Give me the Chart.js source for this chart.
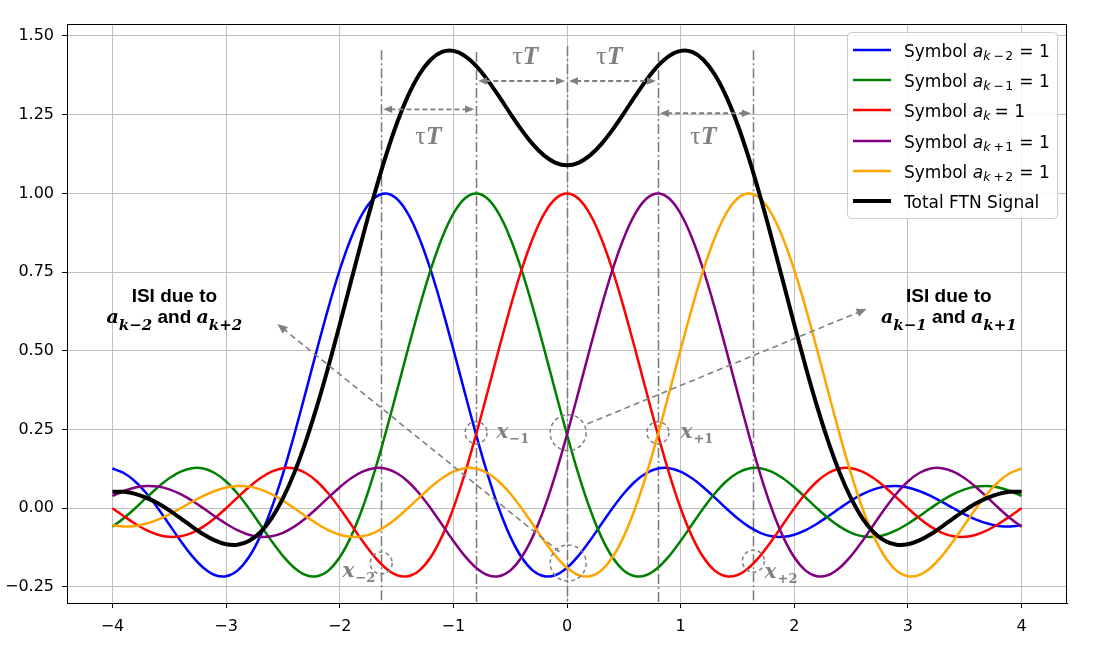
<!DOCTYPE html>
<html lang="en">
<head>
<meta charset="UTF-8">
<title>FTN signal and ISI</title>
<script src="https://cdn.jsdelivr.net/npm/chart.js"></script>
<style>
    body { margin: 0; background: #fff; }
    #wrap { width: 1094px; height: 645px; }
</style>
</head>
<body>
<div id="wrap"><canvas id="ftnChart" width="1094" height="645"></canvas></div>
<script>
// sample positions (t / T)
const xs = [-4, -3.9, -3.8, -3.7, -3.6, -3.5, -3.4, -3.3, -3.2, -3.1, -3, -2.9, -2.8, -2.7, -2.6, -2.5, -2.4, -2.3, -2.2, -2.1,
    -2, -1.9, -1.8, -1.7, -1.6, -1.5, -1.4, -1.3, -1.2, -1.1, -1, -0.9, -0.8, -0.7, -0.6, -0.5, -0.4, -0.3, -0.2, -0.1,
    0, 0.1, 0.2, 0.3, 0.4, 0.5, 0.6, 0.7, 0.8, 0.9, 1, 1.1, 1.2, 1.3, 1.4, 1.5, 1.6, 1.7, 1.8, 1.9,
    2, 2.1, 2.2, 2.3, 2.4, 2.5, 2.6, 2.7, 2.8, 2.9, 3, 3.1, 3.2, 3.3, 3.4, 3.5, 3.6, 3.7, 3.8, 3.9, 4];

// pulses
const symKm2 = [0.1261, 0.1120, 0.0850, 0.0468, 0, -0.0518, -0.1039, -0.1515, -0.1892, -0.2122, -0.2162, -0.1981, -0.1559, -0.0894, 0, 0.1093, 0.2339, 0.3679, 0.5046, 0.6366,
    0.7568, 0.8584, 0.9355, 0.9836, 1, 0.9836, 0.9355, 0.8584, 0.7568, 0.6366, 0.5046, 0.3679, 0.2339, 0.1093, 0, -0.0894, -0.1559, -0.1981, -0.2162, -0.2122,
    -0.1892, -0.1515, -0.1039, -0.0518, 0, 0.0468, 0.0850, 0.1120, 0.1261, 0.1273, 0.1164, 0.0954, 0.0668, 0.0339, 0, -0.0317, -0.0585, -0.0780, -0.0890, -0.0909,
    -0.0841, -0.0696, -0.0492, -0.0252, 0, 0.0240, 0.0445, 0.0599, 0.0688, 0.0707, 0.0658, 0.0548, 0.0390, 0.0201, 0, -0.0193, -0.0360, -0.0486, -0.0561, -0.0579, -0.0541];
const symKm1 = [-0.0585, -0.0317, 0, 0.0339, 0.0668, 0.0954, 0.1164, 0.1273, 0.1261, 0.1120, 0.0850, 0.0468, 0, -0.0518, -0.1039, -0.1515, -0.1892, -0.2122, -0.2162, -0.1981,
    -0.1559, -0.0894, 0, 0.1093, 0.2339, 0.3679, 0.5046, 0.6366, 0.7568, 0.8584, 0.9355, 0.9836, 1, 0.9836, 0.9355, 0.8584, 0.7568, 0.6366, 0.5046, 0.3679,
    0.2339, 0.1093, 0, -0.0894, -0.1559, -0.1981, -0.2162, -0.2122, -0.1892, -0.1515, -0.1039, -0.0518, 0, 0.0468, 0.0850, 0.1120, 0.1261, 0.1273, 0.1164, 0.0954,
    0.0668, 0.0339, 0, -0.0317, -0.0585, -0.0780, -0.0890, -0.0909, -0.0841, -0.0696, -0.0492, -0.0252, 0, 0.0240, 0.0445, 0.0599, 0.0688, 0.0707, 0.0658, 0.0548, 0.0390];
const symK = [0, -0.0252, -0.0492, -0.0696, -0.0841, -0.0909, -0.0890, -0.0780, -0.0585, -0.0317, 0, 0.0339, 0.0668, 0.0954, 0.1164, 0.1273, 0.1261, 0.1120, 0.0850, 0.0468,
    0, -0.0518, -0.1039, -0.1515, -0.1892, -0.2122, -0.2162, -0.1981, -0.1559, -0.0894, 0, 0.1093, 0.2339, 0.3679, 0.5046, 0.6366, 0.7568, 0.8584, 0.9355, 0.9836,
    1, 0.9836, 0.9355, 0.8584, 0.7568, 0.6366, 0.5046, 0.3679, 0.2339, 0.1093, 0, -0.0894, -0.1559, -0.1981, -0.2162, -0.2122, -0.1892, -0.1515, -0.1039, -0.0518,
    0, 0.0468, 0.0850, 0.1120, 0.1261, 0.1273, 0.1164, 0.0954, 0.0668, 0.0339, 0, -0.0317, -0.0585, -0.0780, -0.0890, -0.0909, -0.0841, -0.0696, -0.0492, -0.0252, 0];
const symKp1 = [0.0390, 0.0548, 0.0658, 0.0707, 0.0688, 0.0599, 0.0445, 0.0240, 0, -0.0252, -0.0492, -0.0696, -0.0841, -0.0909, -0.0890, -0.0780, -0.0585, -0.0317, 0, 0.0339,
    0.0668, 0.0954, 0.1164, 0.1273, 0.1261, 0.1120, 0.0850, 0.0468, 0, -0.0518, -0.1039, -0.1515, -0.1892, -0.2122, -0.2162, -0.1981, -0.1559, -0.0894, 0, 0.1093,
    0.2339, 0.3679, 0.5046, 0.6366, 0.7568, 0.8584, 0.9355, 0.9836, 1, 0.9836, 0.9355, 0.8584, 0.7568, 0.6366, 0.5046, 0.3679, 0.2339, 0.1093, 0, -0.0894,
    -0.1559, -0.1981, -0.2162, -0.2122, -0.1892, -0.1515, -0.1039, -0.0518, 0, 0.0468, 0.0850, 0.1120, 0.1261, 0.1273, 0.1164, 0.0954, 0.0668, 0.0339, 0, -0.0317, -0.0585];
const symKp2 = [-0.0541, -0.0579, -0.0561, -0.0486, -0.0360, -0.0193, 0, 0.0201, 0.0390, 0.0548, 0.0658, 0.0707, 0.0688, 0.0599, 0.0445, 0.0240, 0, -0.0252, -0.0492, -0.0696,
    -0.0841, -0.0909, -0.0890, -0.0780, -0.0585, -0.0317, 0, 0.0339, 0.0668, 0.0954, 0.1164, 0.1273, 0.1261, 0.1120, 0.0850, 0.0468, 0, -0.0518, -0.1039, -0.1515,
    -0.1892, -0.2122, -0.2162, -0.1981, -0.1559, -0.0894, 0, 0.1093, 0.2339, 0.3679, 0.5046, 0.6366, 0.7568, 0.8584, 0.9355, 0.9836, 1, 0.9836, 0.9355, 0.8584,
    0.7568, 0.6366, 0.5046, 0.3679, 0.2339, 0.1093, 0, -0.0894, -0.1559, -0.1981, -0.2162, -0.2122, -0.1892, -0.1515, -0.1039, -0.0518, 0, 0.0468, 0.0850, 0.1120, 0.1261];
const totalFtn = [0.0525, 0.0520, 0.0455, 0.0332, 0.0155, -0.0067, -0.0320, -0.0581, -0.0826, -0.1023, -0.1146, -0.1163, -0.1044, -0.0768, -0.0320, 0.0311, 0.1123, 0.2108, 0.3242, 0.4496,
    0.5836, 0.7217, 0.8590, 0.9907, 1.1123, 1.2196, 1.3089, 1.3776, 1.4245, 1.4492, 1.4526, 1.4366, 1.4047, 1.3606, 1.3089, 1.2543, 1.2018, 1.1557, 1.1200, 1.0971,
    1.0894, 1.0971, 1.1200, 1.1557, 1.2018, 1.2543, 1.3089, 1.3606, 1.4047, 1.4366, 1.4526, 1.4492, 1.4245, 1.3776, 1.3089, 1.2196, 1.1123, 0.9907, 0.8590, 0.7217,
    0.5836, 0.4496, 0.3242, 0.2108, 0.1123, 0.0311, -0.0320, -0.0768, -0.1044, -0.1163, -0.1146, -0.1023, -0.0826, -0.0581, -0.0320, -0.0067, 0.0155, 0.0332, 0.0455, 0.0520, 0.0525];

const seriesSubs = ['k − 2', 'k − 1', 'k', 'k + 1', 'k + 2'];
const seriesColors = ['#0000ff', '#008000', '#ff0000', '#800080', '#ffa500'];
const xTickValues = [-4, -3, -2, -1, 0, 1, 2, 3, 4];
const xTickLabels = ['−4', '−3', '−2', '−1', '0', '1', '2', '3', '4'];
const yTickValues = [-0.25, 0, 0.25, 0.5, 0.75, 1, 1.25, 1.5];
const yTickLabels = ['−0.25', '0.00', '0.25', '0.50', '0.75', '1.00', '1.25', '1.50'];

const GRAY = '#808080';

function pts(ys) { return xs.map((x, i) => ({ x: x, y: ys[i] })); }

// draw a row of text pieces (fonts, subscripts) one after the other
function drawRuns(ctx, runs, x, y, align) {
    let w = 0;
    runs.forEach(r => { ctx.font = r.f; w += ctx.measureText(r.t).width + (r.gap || 0); });
    let cx = align === 'center' ? x - w / 2 : x;
    ctx.textAlign = 'left';
    ctx.textBaseline = 'alphabetic';
    runs.forEach(r => {
        cx += r.gap || 0;
        ctx.font = r.f;
        ctx.fillText(r.t, cx, y + (r.dy || 0));
        cx += ctx.measureText(r.t).width;
    });
}

function head(ctx, x1, y1, x2, y2, len, half) {
    const a = Math.atan2(y2 - y1, x2 - x1);
    ctx.save();
    ctx.setLineDash([]);
    ctx.beginPath();
    ctx.moveTo(x2, y2);
    ctx.lineTo(x2 - len * Math.cos(a) + half * Math.sin(a), y2 - len * Math.sin(a) - half * Math.cos(a));
    ctx.lineTo(x2 - len * Math.cos(a) - half * Math.sin(a), y2 - len * Math.sin(a) + half * Math.cos(a));
    ctx.closePath();
    ctx.fill();
    ctx.restore();
}

function arrow(ctx, x1, y1, x2, y2, both, dash, len) {
    const a = Math.atan2(y2 - y1, x2 - x1);
    const sx = both ? x1 + len * Math.cos(a) * 0.8 : x1, sy = both ? y1 + len * Math.sin(a) * 0.8 : y1;
    ctx.setLineDash(dash);
    ctx.beginPath();
    ctx.moveTo(sx, sy);
    ctx.lineTo(x2 - len * Math.cos(a) * 0.8, y2 - len * Math.sin(a) * 0.8);
    ctx.stroke();
    head(ctx, x1, y1, x2, y2, len, len * 0.42);
    if (both) head(ctx, x2, y2, x1, y1, len, len * 0.42);
}

const annotations = {
    id: 'annotations',
    beforeDatasetsDraw(chart) {
        const { ctx, chartArea, scales: { x, y } } = chart;
        ctx.save();
        ctx.strokeStyle = '#7a7a7a';
        ctx.lineWidth = 1.5;
        ctx.setLineDash([10, 3, 2, 3]);
        [[-1.635, 1.455], [-0.8, 1.449], [0, 1.468], [0.8, 1.449], [1.635, 1.455]].forEach(([vx, top]) => {
            const px = Math.round(x.getPixelForValue(vx)) + 0.5;
            ctx.beginPath();
            ctx.moveTo(px, y.getPixelForValue(top));
            ctx.lineTo(px, chartArea.bottom);
            ctx.stroke();
        });
        ctx.restore();
    },
    afterDatasetsDraw(chart) {
        const { ctx, chartArea, scales: { x, y } } = chart;
        const X = v => x.getPixelForValue(v), Y = v => y.getPixelForValue(v);
        ctx.save();
        ctx.strokeStyle = GRAY;
        ctx.fillStyle = GRAY;

        // tau T spacing arrows
        ctx.lineWidth = 1.8;
        [[-1.635, -0.8, 1.267], [-0.8, 0, 1.357], [0, 0.8, 1.357], [0.8, 1.635, 1.2545]].forEach(([a, b, h]) => {
            arrow(ctx, X(a) + 2, Y(h), X(b) - 2, Y(h), true, [5, 3], 9);
        });
        [[-0.367, 1.41], [0.374, 1.41], [-1.219, 1.157], [1.2, 1.157]].forEach(([cx, by]) => {
            drawRuns(ctx, [{ t: 'τ', f: '26px "Liberation Serif"' }, { t: 'T', f: 'bold italic 26px "Liberation Serif"' }], X(cx), Y(by), 'center');
        });

        // ISI pointers
        ctx.lineWidth = 1.6;
        arrow(ctx, X(-0.066), Y(-0.139), X(-2.548), Y(0.585), false, [6, 4], 10);
        arrow(ctx, X(0.18), Y(0.268), X(2.636), Y(0.633), false, [6, 4], 10);

        // sample circles
        ctx.lineWidth = 1.5;
        ctx.setLineDash([4, 3]);
        [[-0.8, 0.24, 11], [0.01, 0.24, 18], [0.8, 0.24, 11], [-1.635, -0.174, 11], [0.01, -0.174, 18], [1.64, -0.168, 11]].forEach(([cx, cy, r]) => {
            ctx.beginPath();
            ctx.arc(X(cx), Y(cy), r, 0, Math.PI * 2);
            ctx.stroke();
        });
        ctx.setLineDash([]);

        // sample labels
        const xf = 'bold italic 20px "DejaVu Serif"', sf = 'bold 13px "DejaVu Serif"';
        [[-0.621, 0.2233, '−1'], [0.999, 0.2233, '+1'], [-1.976, -0.218, '−2'], [1.739, -0.2214, '+2']].forEach(([lx, ly, s]) => {
            drawRuns(ctx, [{ t: 'x', f: xf }, { t: s, f: sf, dy: 5, gap: 1 }], X(lx), Y(ly), 'left');
        });

        // ISI captions
        ctx.fillStyle = '#000';
        const capF = 'bold 19px "Liberation Sans"';
        const mF = 'bold italic 19px "DejaVu Serif"', mS = 'bold italic 15px "DejaVu Serif"';
        [[-3.455, 'k−2', 'k+2'], [3.36, 'k−1', 'k+1']].forEach(([cx, s1, s2]) => {
            drawRuns(ctx, [{ t: 'ISI due to', f: capF }], X(cx), Y(0.656), 'center');
            drawRuns(ctx, [
                { t: 'a', f: mF }, { t: s1, f: mS, dy: 7 },
                { t: ' and ', f: capF },
                { t: 'a', f: mF }, { t: s2, f: mS, dy: 7 }
            ], X(cx), Y(0.5875), 'center');
        });

        // legend
        const lx = chartArea.right - 220, ly = chartArea.top + 8, lw = 210, lh = 186;
        ctx.fillStyle = 'rgba(255,255,255,0.85)';
        ctx.strokeStyle = '#cccccc';
        ctx.lineWidth = 1;
        ctx.beginPath();
        ctx.roundRect(lx + 0.5, ly + 0.5, lw, lh, 4);
        ctx.fill();
        ctx.stroke();
        const rows = seriesSubs.map((s, i) => ({ color: seriesColors[i], w: 2.5, sub: s }));
        rows.push({ color: '#000', w: 4, sub: null });
        const tf = '17px "DejaVu Sans"';
        rows.forEach((r, i) => {
            const cy = Math.round(ly + 18 + i * 30.2);
            ctx.strokeStyle = r.color;
            ctx.lineWidth = r.w;
            ctx.beginPath();
            ctx.moveTo(lx + 6, cy);
            ctx.lineTo(lx + 44, cy);
            ctx.stroke();
            ctx.fillStyle = '#000';
            if (r.sub === null) {
                drawRuns(ctx, [{ t: 'Total FTN Signal', f: tf }], lx + 57, cy + 6.5, 'left');
            } else {
                const parts = r.sub.split(' ');
                const runs = [{ t: 'Symbol ', f: tf }, { t: 'a', f: 'italic 17px "DejaVu Sans"' },
                    { t: parts[0], f: 'italic 12.5px "DejaVu Sans"', dy: 3 }];
                if (parts.length > 1) {
                    runs.push({ t: parts[1], f: '12.5px "DejaVu Sans"', dy: 3, gap: 3 });
                    runs.push({ t: parts[2], f: '12.5px "DejaVu Sans"', dy: 3, gap: 1.5 });
                }
                runs.push({ t: '=', f: tf, gap: parts.length > 1 ? 6 : 4 });
                runs.push({ t: '1', f: tf, gap: 5.5 });
                drawRuns(ctx, runs, lx + 57, cy + 6.5, 'left');
            }
        });

        // axes frame
        ctx.strokeStyle = '#000';
        ctx.lineWidth = 1;
        ctx.strokeRect(chartArea.left + 0.5, chartArea.top + 0.5, chartArea.right - chartArea.left - 1, chartArea.bottom - chartArea.top);
        ctx.restore();
    }
};

function ds(label, ys, color, width, order) {
    return { label: label, data: pts(ys), borderColor: color, backgroundColor: color, borderWidth: width,
        pointRadius: 0, tension: 0.3, fill: false, order: order };
}

new Chart(document.getElementById('ftnChart'), {
    type: 'line',
    data: {
        datasets: [
            ds('Symbol a_{k-2} = 1', symKm2, seriesColors[0], 2.5, 6),
            ds('Symbol a_{k-1} = 1', symKm1, seriesColors[1], 2.5, 5),
            ds('Symbol a_k = 1', symK, seriesColors[2], 2.5, 4),
            ds('Symbol a_{k+1} = 1', symKp1, seriesColors[3], 2.5, 3),
            ds('Symbol a_{k+2} = 1', symKp2, seriesColors[4], 2.5, 2),
            ds('Total FTN Signal', totalFtn, '#000000', 4, 1)
        ]
    },
    options: {
        responsive: false,
        animation: false,
        devicePixelRatio: 1,
        layout: { padding: { top: 24, right: 27, left: 0, bottom: 0 } },
        plugins: { legend: { display: false }, tooltip: { enabled: false } },
        scales: {
            x: {
                type: 'linear', min: -4.4, max: 4.4,
                afterBuildTicks: s => { s.ticks = xTickValues.map(v => ({ value: v })); },
                afterFit: s => { s.height = 42; },
                grid: { color: '#c0c0c0', lineWidth: 1, tickColor: '#000', tickLength: 5 },
                border: { color: '#000', width: 1 },
                ticks: { autoSkip: false, maxRotation: 0, padding: 9, color: '#000',
                    font: { family: 'DejaVu Sans', size: 16 },
                    callback: (v, i) => xTickLabels[i] }
            },
            y: {
                type: 'linear', min: -0.301, max: 1.538,
                afterBuildTicks: s => { s.ticks = yTickValues.map(v => ({ value: v })); },
                afterFit: s => { s.width = 67; },
                grid: { color: '#c0c0c0', lineWidth: 1, tickColor: '#000', tickLength: 5 },
                border: { color: '#000', width: 1 },
                ticks: { autoSkip: false, padding: 8, color: '#000',
                    font: { family: 'DejaVu Sans', size: 16 },
                    callback: (v, i) => yTickLabels[i] }
            }
        }
    },
    plugins: [annotations]
});
</script>
</body>
</html>
